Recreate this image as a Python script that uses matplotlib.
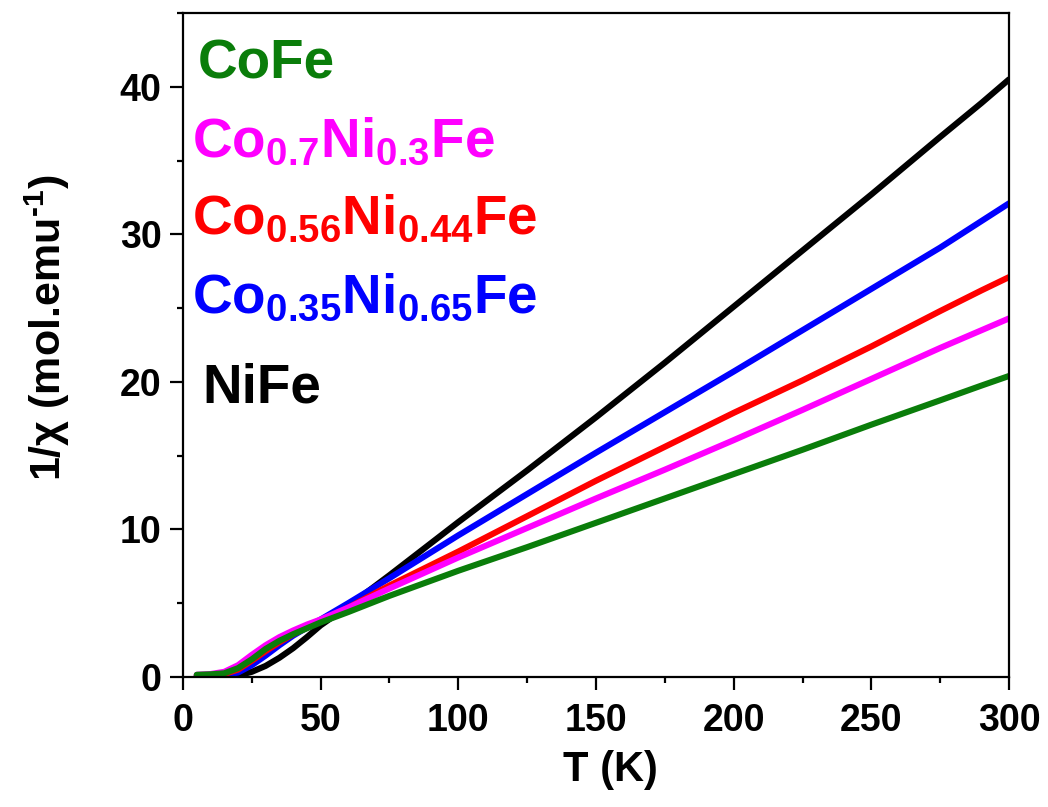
import matplotlib
matplotlib.use("Agg")
import matplotlib.pyplot as plt
from matplotlib.ticker import MultipleLocator

plt.rcParams["font.family"] = ["Liberation Sans", "DejaVu Sans"]
plt.rcParams["font.weight"] = "bold"
plt.rcParams["mathtext.fontset"] = "custom"
plt.rcParams["mathtext.rm"] = "Liberation Sans:bold"
plt.rcParams["mathtext.it"] = "Liberation Sans:bold"
plt.rcParams["mathtext.bf"] = "Liberation Sans:bold"
plt.rcParams["mathtext.default"] = "rm"

# Temperature grid (K)
temp = [5, 10, 15, 20, 25, 30, 35, 40, 45, 50, 60, 75, 100, 125, 150, 175, 200, 225, 250, 275, 290, 300]

# 1/chi (mol.emu^-1)
inv_cofe = [0.15, 0.18, 0.25, 0.6, 1.2, 1.9, 2.45, 2.9, 3.3, 3.7, 4.4, 5.5, 7.2, 8.8, 10.45, 12.1,
            13.75, 15.4, 17.1, 18.75, 19.75, 20.4]
inv_co07 = [0.15, 0.2, 0.35, 0.8, 1.5, 2.15, 2.7, 3.15, 3.55, 3.9, 4.7, 6.0, 8.1, 10.1, 12.1, 14.05,
            16.05, 18.1, 20.2, 22.3, 23.5, 24.3]
inv_co056 = [0.1, 0.12, 0.2, 0.5, 1.1, 1.75, 2.35, 2.9, 3.35, 3.8, 4.7, 6.2, 8.5, 10.9, 13.3, 15.6,
             17.9, 20.1, 22.4, 24.8, 26.2, 27.1]
inv_co035 = [0.08, 0.08, 0.12, 0.3, 0.8, 1.45, 2.15, 2.8, 3.35, 3.9, 5.0, 6.7, 9.6, 12.4, 15.2, 17.95,
             20.7, 23.5, 26.3, 29.1, 30.9, 32.1]
inv_nife = [None, 0.05, 0.05, 0.1, 0.35, 0.75, 1.3, 1.95, 2.7, 3.5, 4.8, 6.9, 10.5, 14.0, 17.6, 21.3,
            25.1, 28.9, 32.7, 36.6, 38.9, 40.5]

labels = ["CoFe", "Co$_{0.7}$Ni$_{0.3}$Fe", "Co$_{0.56}$Ni$_{0.44}$Fe",
          "Co$_{0.35}$Ni$_{0.65}$Fe", "NiFe"]
colors = ["#0a7d0a", "#ff00ff", "#ff0000", "#0000ff", "#000000"]
series = [inv_cofe, inv_co07, inv_co056, inv_co035, inv_nife]

fig = plt.figure(figsize=(10.48, 8.07), dpi=100, facecolor="white")
ax = fig.add_axes([0.1746, 0.1611, 0.7882, 0.8228])

# draw black first so green ends on top at low T
for ys, c in reversed(list(zip(series, colors))):
    pts = [(t, v) for t, v in zip(temp, ys) if v is not None]
    ax.plot([p[0] for p in pts], [p[1] for p in pts], color=c, lw=4.4,
            solid_capstyle="round", solid_joinstyle="round")

ax.set_xlim(0, 300)
ax.set_ylim(0, 45)
ax.xaxis.set_major_locator(MultipleLocator(50))
ax.xaxis.set_minor_locator(MultipleLocator(25))
ax.yaxis.set_major_locator(MultipleLocator(10))
ax.yaxis.set_minor_locator(MultipleLocator(5))
ax.tick_params(which="major", direction="out", length=9.5, width=1.6,
               labelsize=27, pad=6)
ax.tick_params(axis="x", which="major", pad=9)
ax.tick_params(which="minor", direction="out", length=4.5, width=1.6)
ax.tick_params(top=False, right=False)
for sp in ax.spines.values():
    sp.set_linewidth(1.6)

ax.set_xlabel("T (K)", fontsize=30, fontweight="bold")
ax.set_ylabel("1/χ (mol.emu$^{\u2010 1}$)", fontsize=31, fontweight="bold")
ax.xaxis.set_label_coords(0.517, -0.11)
ax.yaxis.set_label_coords(-0.134, 0.526)

# coloured sample names in place of a legend
text_x = [0.018, 0.011, 0.011, 0.011, 0.024]
text_y = [0.902, 0.783, 0.666, 0.548, 0.414]
for lab, c, tx, ty in zip(labels, colors, text_x, text_y):
    ax.text(tx, ty, lab, transform=ax.transAxes, color=c, fontsize=39.5,
            fontweight="bold", ha="left", va="baseline")

fig.savefig("out.png", dpi=100, facecolor="white")
